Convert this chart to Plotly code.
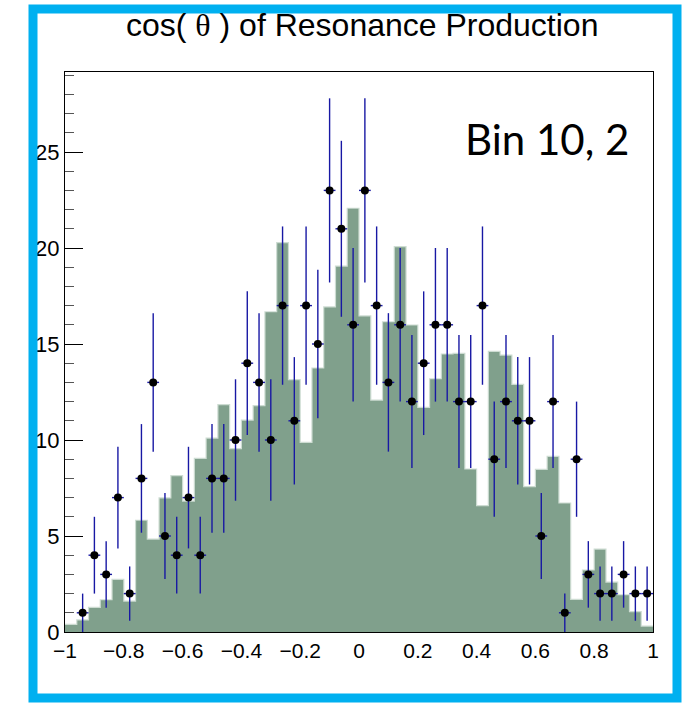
import math
import plotly.graph_objects as go

# ---------------- data ----------------
x_min, x_max, n_bins = -1.0, 1.0, 50

# simulated (filled) histogram contents, one per bin
hist_values = [
    0.40, 0.63, 1.28, 1.68, 2.74, 1.61, 5.82, 4.84, 6.99, 8.14,
    6.82, 9.04, 10.10, 11.84, 9.55, 11.03, 11.79, 16.68, 20.28, 13.14,
    9.88, 13.75, 16.93, 19.06, 22.07, 16.46, 12.08, 16.16, 20.07, 15.99,
    11.70, 13.19, 14.48, 14.51, 8.49, 6.58, 14.62, 14.42, 12.90, 7.57,
    8.47, 9.15, 6.72, 1.70, 3.23, 4.32, 2.60, 1.94, 1.06, 0.31,
]

# observed counts (data points), one per bin
data_counts = [
    0, 1, 4, 3, 7, 2, 8, 13, 5, 4,
    7, 4, 8, 8, 10, 14, 13, 10, 17, 11,
    17, 15, 23, 21, 16, 23, 17, 13, 16, 12,
    14, 16, 16, 12, 12, 17, 9, 12, 11, 11,
    5, 12, 1, 9, 3, 2, 2, 3, 2, 2,
]

title_text = 'cos( <span style="font-family:Liberation Serif">θ</span> ) of Resonance Production'
label_text = "Bin 10, 2"

# ---------------- derived ----------------
bin_width = (x_max - x_min) / n_bins
edges = [x_min + i * bin_width for i in range(n_bins + 1)]
centers = [x_min + (i + 0.5) * bin_width for i in range(n_bins)]

pts_x = [c for c, n in zip(centers, data_counts) if n > 0]
pts_y = [n for n in data_counts if n > 0]
pts_err = [math.sqrt(n) for n in pts_y]

W, H = 689, 705
L, R, T, B = 65, 653, 72, 632  # plot-area pixel box


def px_to_paper_x(px):
    return (px - L) / (R - L)


def px_to_paper_y(py):
    return (B - py) / (B - T)


fill_col = "#80A08C"
err_col = "#1818A4"
frame_blue = "#00B0F0"

fig = go.Figure()

fig.add_trace(go.Bar(
    x=centers, y=hist_values, width=bin_width,
    marker=dict(color=fill_col, line=dict(width=0)),
    showlegend=False, hoverinfo="skip",
))

fig.add_trace(go.Scatter(
    x=edges, y=hist_values + [hist_values[-1]],
    mode="lines", line=dict(shape="hv", color="rgba(205,220,210,1)", width=1.2),
    showlegend=False, hoverinfo="skip",
))

fig.add_trace(go.Scatter(
    x=pts_x, y=pts_y, mode="markers",
    marker=dict(color="black", size=8),
    error_y=dict(type="data", array=pts_err, color=err_col, thickness=1.4, width=0),
    error_x=dict(type="constant", value=bin_width / 2, color=err_col, thickness=1.4, width=0),
    showlegend=False,
))

font_main = "Liberation Sans, Arial, sans-serif"
y_top = (B - T) / 19.2

fig.update_layout(
    width=W, height=H, autosize=False,
    margin=dict(l=L, r=W - R, t=T, b=H - B, pad=0),
    paper_bgcolor="white", plot_bgcolor="white",
    bargap=0,
    font=dict(family=font_main, color="black"),
    xaxis=dict(
        range=[x_min, x_max], tick0=-1, dtick=0.2, ticks="",
        showline=True, mirror=True, linecolor="black", linewidth=1,
        showgrid=False, zeroline=False,
        tickfont=dict(size=21, family=font_main, color="black"),
    ),
    yaxis=dict(
        range=[0, y_top], tick0=0, dtick=5,
        ticks="inside", ticklen=18, tickcolor="black", tickwidth=1,
        minor=dict(dtick=1, ticks="inside", ticklen=9, tickcolor="#555555", tickwidth=1, showgrid=False),
        showline=True, mirror=True, linecolor="black", linewidth=1,
        showgrid=False, zeroline=False,
        tickfont=dict(size=22, family=font_main, color="black"),
    ),
    annotations=[
        dict(text=title_text, xref="paper", yref="paper",
             x=px_to_paper_x(362), y=px_to_paper_y(25),
             xanchor="center", yanchor="middle", showarrow=False,
             font=dict(size=32, family=font_main, color="black")),
        dict(text=label_text, xref="paper", yref="paper",
             x=px_to_paper_x(463), y=px_to_paper_y(139),
             xanchor="left", yanchor="middle", showarrow=False,
             font=dict(size=42, family="Lato, Carlito, sans-serif", color="black")),
    ],
    shapes=[
        dict(type="rect", xref="paper", yref="paper",
             x0=px_to_paper_x(33), x1=px_to_paper_x(677),
             y0=px_to_paper_y(698), y1=px_to_paper_y(9),
             line=dict(color=frame_blue, width=9), fillcolor="rgba(0,0,0,0)",
             layer="above"),
    ],
)

fig.write_html("out.html")
